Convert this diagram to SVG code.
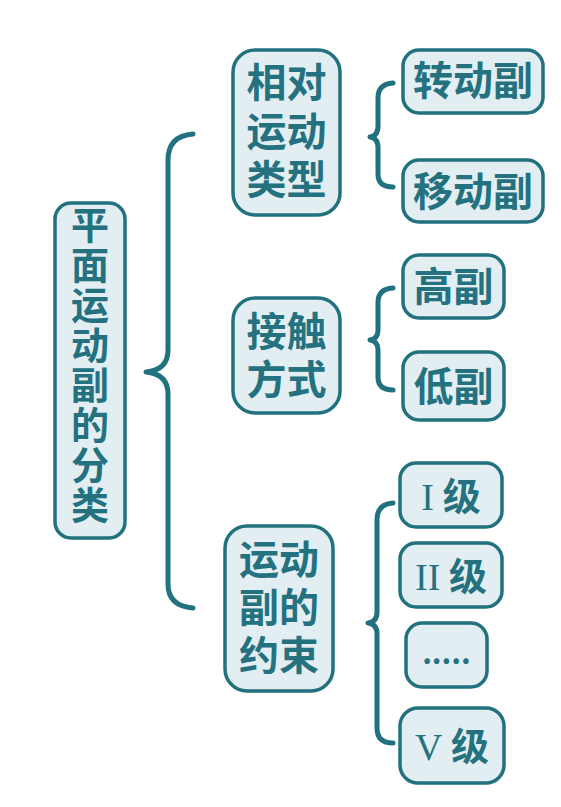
<svg xmlns="http://www.w3.org/2000/svg" width="561" height="807" viewBox="0 0 561 807">
<style>
.box{fill:#e2eef2;stroke:#22717f;stroke-width:3.5}
.t{font-family:"Noto Sans CJK SC","Noto Sans",sans-serif;font-weight:700;fill:#24727f;text-anchor:middle}
.r{font-family:"Liberation Serif",serif;font-weight:400}
.br{fill:none;stroke:#22717f;stroke-width:5;stroke-linecap:round;stroke-linejoin:round}
</style>
<rect width="561" height="807" fill="#ffffff"/>
<g id="connectors">
<path class="br" d="M193,134 Q168,136 168,160 L168,350 Q168,370 146,372 Q168,374 168,394 L168,584 Q168,606 193,608"/>
<path class="br" d="M393,83 Q378,84 378,98 L378,126 Q378,136 370,137 Q378,138 378,148 L378,174 Q378,187 393,187"/>
<path class="br" d="M393,288 Q378,289 378,302 L378,330 Q378,339 370,340 Q378,341 378,350 L378,377 Q378,390 393,390"/>
<path class="br" d="M393,503 Q377,504 377,520 L377,612 Q377,622 368,623 Q377,624 377,634 L377,728 Q377,743 393,743"/>
</g>
<g id="n_main">
<rect class="box" x="55" y="203" width="70" height="335" rx="16"/>
<text class="t" font-size="38" x="90" y="206" style="writing-mode:vertical-rl;text-anchor:start;letter-spacing:2px">平面运动副的分类</text>
</g>
<g id="n_relmotion">
<rect class="box" x="233" y="50" width="107" height="165" rx="22"/>
<text class="t" font-size="40"><tspan x="286.5" y="97">相对</tspan><tspan x="286.5" y="146">运动</tspan><tspan x="286.5" y="194">类型</tspan></text>
</g>
<g id="n_revolute">
<rect class="box" x="403" y="50" width="140" height="63" rx="16"/>
<text class="t" font-size="40" x="473" y="95">转动副</text>
</g>
<g id="n_prismatic">
<rect class="box" x="403" y="160" width="140" height="62" rx="16"/>
<text class="t" font-size="40" x="473" y="206">移动副</text>
</g>
<g id="n_contact">
<rect class="box" x="233" y="298" width="107" height="115" rx="22"/>
<text class="t" font-size="40"><tspan x="286.5" y="346">接触</tspan><tspan x="286.5" y="394">方式</tspan></text>
</g>
<g id="n_higher">
<rect class="box" x="403" y="255" width="101" height="63" rx="16"/>
<text class="t" font-size="40" x="453.5" y="301">高副</text>
</g>
<g id="n_lower">
<rect class="box" x="403" y="352" width="101" height="68" rx="16"/>
<text class="t" font-size="40" x="453.5" y="401">低副</text>
</g>
<g id="n_constraint">
<rect class="box" x="225" y="526" width="108" height="165" rx="22"/>
<text class="t" font-size="40"><tspan x="279" y="574">运动</tspan><tspan x="279" y="622">副的</tspan><tspan x="279" y="670">约束</tspan></text>
</g>
<g id="n_c1">
<rect class="box" x="400" y="463" width="102" height="64" rx="16"/>
<text class="t" font-size="38" x="451" y="510"><tspan class="r">I</tspan> 级</text>
</g>
<g id="n_c2">
<rect class="box" x="400" y="543" width="102" height="64" rx="16"/>
<text class="t" font-size="38" x="451" y="590"><tspan class="r">II</tspan> 级</text>
</g>
<g id="n_dots">
<rect class="box" x="406" y="623" width="81" height="64" rx="16"/>
<text class="t" font-size="30" x="446.5" y="664">.....</text>
</g>
<g id="n_c5">
<rect class="box" x="400" y="708" width="104" height="75" rx="18"/>
<text class="t" font-size="38" x="452" y="760"><tspan class="r">V</tspan> 级</text>
</g>
</svg>
